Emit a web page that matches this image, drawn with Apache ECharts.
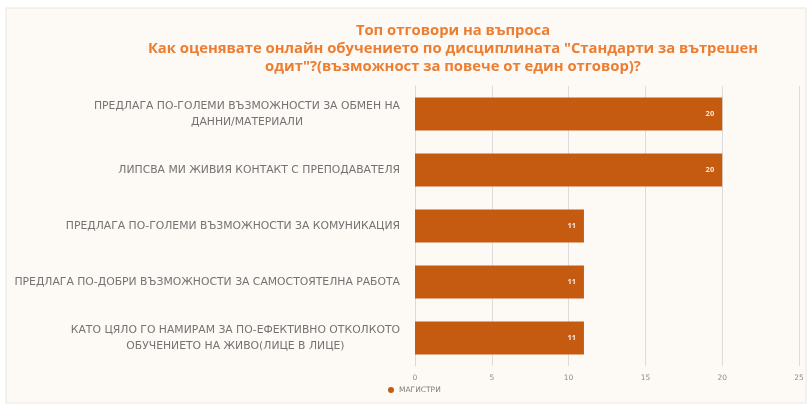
<!DOCTYPE html>
<html>
<head>
<meta charset="utf-8">
<script src="https://cdn.jsdelivr.net/npm/echarts@6/dist/echarts.min.js"></script>
<style>
  html, body { margin: 0; padding: 0; background: #ffffff; }
  #chart { width: 807px; height: 404px; }
</style>
</head>
<body>
<div id="chart"></div>
<script>
// Answers, listed top to bottom
const categories = [
  'ПРЕДЛАГА ПО-ГОЛЕМИ ВЪЗМОЖНОСТИ ЗА ОБМЕН НА\nДАННИ/МАТЕРИАЛИ',
  'ЛИПСВА МИ ЖИВИЯ КОНТАКТ С ПРЕПОДАВАТЕЛЯ',
  'ПРЕДЛАГА ПО-ГОЛЕМИ ВЪЗМОЖНОСТИ ЗА КОМУНИКАЦИЯ',
  'ПРЕДЛАГА ПО-ДОБРИ ВЪЗМОЖНОСТИ ЗА САМОСТОЯТЕЛНА РАБОТА',
  'КАТО ЦЯЛО ГО НАМИРАМ ЗА ПО-ЕФЕКТИВНО ОТКОЛКОТО\nОБУЧЕНИЕТО НА ЖИВО(ЛИЦЕ В ЛИЦЕ)'
];
const magistri = [20, 20, 11, 11, 11];
const seriesName = 'МАГИСТРИ';
const xTicks = [0, 5, 10, 15, 20, 25];
const titleText = 'Топ отговори на въпроса\nКак оценявате онлайн обучението по дисциплината "Стандарти за вътрешен\nодит"?(възможност за повече от един отговор)?';

const chart = echarts.init(document.getElementById('chart'), null, { renderer: 'canvas' });

chart.setOption({
  backgroundColor: '#ffffff',
  animation: false,
  graphic: [{
    type: 'rect',
    z: -10,
    shape: { x: 6, y: 8, width: 800, height: 395 },
    style: { fill: '#fdf9f5', stroke: '#ebe6e1', lineWidth: 1 }
  }],
  title: {
    text: titleText,
    left: 448,
    top: 17,
    textAlign: 'center',
    textStyle: {
      fontFamily: 'Open Sans',
      fontSize: 14.8,
      fontWeight: 'bold',
      color: '#ec7d31',
      lineHeight: 18,
      align: 'center'
    }
  },
  legend: {
    data: [seriesName],
    bottom: 5,
    left: 383,
    itemWidth: 6,
    itemHeight: 6,
    icon: 'circle',
    itemGap: 4,
    textStyle: { fontFamily: 'DejaVu Sans', fontSize: 7.5, color: '#7f7f7f' }
  },
  grid: {
    left: 415,
    right: 8,
    top: 86,
    bottom: 38,
    containLabel: false
  },
  xAxis: {
    type: 'value',
    min: xTicks[0],
    max: xTicks[xTicks.length - 1],
    interval: 5,
    axisLine: { show: false },
    axisTick: { show: false },
    axisLabel: {
      fontFamily: 'DejaVu Sans',
      fontSize: 7.5,
      color: '#8c8c8c',
      margin: 8
    },
    splitLine: { show: true, lineStyle: { color: '#dcdcdc', width: 1 } }
  },
  yAxis: {
    type: 'category',
    inverse: true,
    data: categories,
    axisLine: { show: true, lineStyle: { color: '#d4dbe3', width: 1 } },
    axisTick: { show: false },
    axisLabel: {
      margin: 15,
      fontFamily: 'DejaVu Sans',
      fontSize: 10.8,
      color: '#737373',
      lineHeight: 16,
      formatter: function (v) {
        return v.split('\n').map(function (l) { return '{c|' + l + '}'; }).join('\n');
      },
      rich: {
        c: {
          align: 'center',
          fontFamily: 'DejaVu Sans',
          fontSize: 10.8,
          color: '#737373',
          lineHeight: 16
        }
      }
    }
  },
  series: [{
    name: seriesName,
    type: 'bar',
    data: magistri,
    barCategoryGap: '41%',
    itemStyle: { color: '#c55a11' },
    label: {
      show: true,
      position: 'insideRight',
      distance: 8,
      fontFamily: 'Open Sans',
      fontSize: 7.5,
      fontWeight: 'bold',
      color: '#fbe5d6'
    }
  }]
});
</script>
</body>
</html>
